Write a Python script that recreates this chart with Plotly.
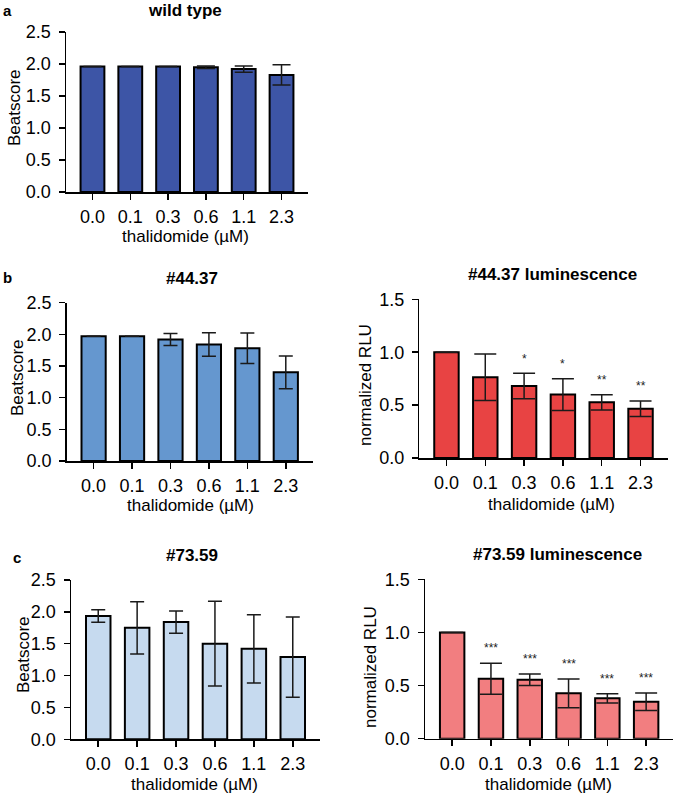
import plotly.graph_objects as go

# ---------------- data ----------------
doses = ["0.0", "0.1", "0.3", "0.6", "1.1", "2.3"]

wt_mean = [1.96, 1.96, 1.96, 1.95, 1.92, 1.83]
wt_err = [0, 0, 0, 0.02, 0.05, 0.16]

b_beat_mean = [1.97, 1.97, 1.92, 1.84, 1.78, 1.40]
b_beat_err = [0, 0, 0.095, 0.185, 0.24, 0.26]

b_lum_mean = [1.0, 0.763, 0.68, 0.60, 0.526, 0.466]
b_lum_err = [0, 0.22, 0.12, 0.15, 0.072, 0.073]
b_lum_sig = ["", "", "*", "*", "**", "**"]

c_beat_mean = [1.935, 1.75, 1.84, 1.50, 1.42, 1.29]
c_beat_err = [0.10, 0.41, 0.175, 0.665, 0.535, 0.63]

c_lum_mean = [1.0, 0.565, 0.555, 0.427, 0.38, 0.348]
c_lum_err = [0, 0.146, 0.054, 0.135, 0.044, 0.082]
c_lum_sig = ["", "***", "***", "***", "***", "***"]

W, H = 676, 796
FONT = "Liberation Sans, Arial, Helvetica, sans-serif"


def fx(p):
    return p / W


def fy(p):
    return 1 - p / H


panels = [
    dict(xd=(66, 308), yd=(32, 192), ymax=2.5, color="#3d55a6", mean=wt_mean, err=wt_err, sig=None,
         title="wild type", tpos=(185, 11), ytitle="Beatscore", ytpos=(14, 108),
         xtpos=(185, 236), cap=9, letter="a", lpos=(7, 10)),
    dict(xd=(66.7, 312.7), yd=(302.7, 461), ymax=2.5, color="#6597cf", mean=b_beat_mean, err=b_beat_err, sig=None,
         title="#44.37", tpos=(192, 278), ytitle="Beatscore", ytpos=(17, 378),
         xtpos=(190, 505), cap=7, letter="b", lpos=(7, 277)),
    dict(xd=(419.3, 667.7), yd=(299.3, 458), ymax=1.5, color="#e84343", mean=b_lum_mean, err=b_lum_err, sig=b_lum_sig,
         title="#44.37 luminescence", tpos=(552, 274), ytitle="normalized RLU", ytpos=(365, 385),
         xtpos=(551, 504), cap=11, letter=None, lpos=None),
    dict(xd=(71, 320), yd=(580, 739.3), ymax=2.5, color="#c6daef", mean=c_beat_mean, err=c_beat_err, sig=None,
         title="#73.59", tpos=(192, 555), ytitle="Beatscore", ytpos=(23, 655),
         xtpos=(194, 784), cap=7, letter="c", lpos=(17, 557)),
    dict(xd=(425, 673.3), yd=(579.3, 738.7), ymax=1.5, color="#f27e80", mean=c_lum_mean, err=c_lum_err, sig=c_lum_sig,
         title="#73.59 luminescence", tpos=(557, 554), ytitle="normalized RLU", ytpos=(370, 667),
         xtpos=(548, 784), cap=11, letter=None, lpos=None),
]

fig = go.Figure()
annotations = []
layout = dict(
    width=W, height=H, margin=dict(l=0, r=0, t=0, b=0, autoexpand=False),
    paper_bgcolor="white", plot_bgcolor="white", showlegend=False,
    font=dict(family=FONT, color="black"),
)

for i, p in enumerate(panels, start=1):
    xa = "x" if i == 1 else f"x{i}"
    ya = "y" if i == 1 else f"y{i}"
    fig.add_trace(go.Bar(
        x=doses, y=p["mean"], xaxis=xa, yaxis=ya, width=0.63,
        marker=dict(color=p["color"], line=dict(color="black", width=2)),
        error_y=dict(type="data", array=p["err"], visible=True, color="#1a1a1a",
                     thickness=1.5, width=p["cap"]),
        hoverinfo="skip",
    ))
    layout["xaxis" if i == 1 else f"xaxis{i}"] = dict(
        domain=[fx(p["xd"][0]), fx(p["xd"][1])], anchor=ya, type="category",
        range=[-0.7, 5.7], showline=True, linecolor="black", linewidth=1.5,
        ticks="outside", ticklen=6, tickwidth=1.5, tickcolor="black",
        showgrid=False, zeroline=False, tickfont=dict(size=18, family=FONT),
        fixedrange=True, automargin=False, ticklabelstandoff=2,
    )
    layout["yaxis" if i == 1 else f"yaxis{i}"] = dict(
        domain=[fy(p["yd"][1]), fy(p["yd"][0])], anchor=xa,
        range=[0, p["ymax"]], dtick=0.5, tickformat=".1f",
        showline=True, linecolor="black", linewidth=1.5,
        ticks="outside", ticklen=6, tickwidth=1.5, tickcolor="black",
        showgrid=False, zeroline=False, tickfont=dict(size=18, family=FONT),
        fixedrange=True, automargin=False, ticklabelstandoff=4,
    )
    annotations.append(dict(text=f"<b>{p['title']}</b>", x=fx(p["tpos"][0]), y=fy(p["tpos"][1]),
                            xref="paper", yref="paper", showarrow=False,
                            xanchor="center", yanchor="middle", font=dict(size=17, family=FONT)))
    annotations.append(dict(text=p["ytitle"], x=fx(p["ytpos"][0]), y=fy(p["ytpos"][1]),
                            xref="paper", yref="paper", showarrow=False, textangle=-90,
                            xanchor="center", yanchor="middle", font=dict(size=17, family=FONT)))
    annotations.append(dict(text="thalidomide (µM)", x=fx(p["xtpos"][0]), y=fy(p["xtpos"][1]),
                            xref="paper", yref="paper", showarrow=False,
                            xanchor="center", yanchor="middle", font=dict(size=17, family=FONT)))
    if p["letter"]:
        annotations.append(dict(text=f"<b>{p['letter']}</b>", x=fx(p["lpos"][0]), y=fy(p["lpos"][1]),
                                xref="paper", yref="paper", showarrow=False,
                                xanchor="center", yanchor="middle", font=dict(size=15, family=FONT)))
    if p["sig"]:
        for k, (m, e, s) in enumerate(zip(p["mean"], p["err"], p["sig"])):
            if s:
                annotations.append(dict(text=s, x=k, y=m + e + 0.14, xref=xa, yref=ya,
                                        showarrow=False, xanchor="center", yanchor="middle",
                                        font=dict(size=12, family=FONT, color="#222")))

layout["annotations"] = annotations
fig.update_layout(**layout)
fig.write_html(
    "out.html",
    config={"displayModeBar": False, "staticPlot": True},
    post_script="document.body.style.margin='0';document.body.style.overflow='hidden';",
)
